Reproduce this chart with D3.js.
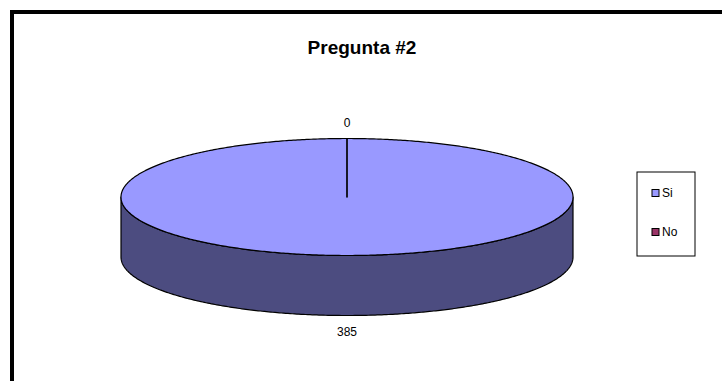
<!DOCTYPE html>
<html>
<head>
<meta charset="utf-8">
<script src="https://cdn.jsdelivr.net/npm/d3@7/dist/d3.min.js"></script>
<style>
  html, body { margin: 0; padding: 0; background: #fff; }
  svg { display: block; font-family: Arial, "Liberation Sans", sans-serif; }
</style>
</head>
<body>
<svg id="chart" width="722" height="381"></svg>
<script>
// Survey answers for question 2
const title = "Pregunta #2";
const categories = ["Si", "No"];
const values = [385, 0];
const topColors = ["#9999FF", "#993366"];
const sideColors = ["#4C4C80", "#4C1933"];

const svg = d3.select("#chart");
const W = 722, H = 381;

// Chart frame (runs off the right and bottom edge)
svg.append("rect")
  .attr("x", 12).attr("y", 12)
  .attr("width", W + 20).attr("height", H + 20)
  .attr("fill", "#fff")
  .attr("stroke", "#000")
  .attr("stroke-width", 4);

svg.append("text")
  .attr("x", 362).attr("y", 54)
  .attr("text-anchor", "middle")
  .attr("font-size", 19)
  .attr("font-weight", "bold")
  .text(title);

// 3D pie geometry
const cx = 347, cy = 197, rx = 226, ry = 58.5, depth = 60;
const pt = (a, dy = 0) => [cx + rx * Math.sin(a), cy - ry * Math.cos(a) + dy];

const pie = d3.pie().sort(null).value(d => d.value);
const data = categories.map((c, i) => ({ name: c, value: values[i], i }));
const arcs = pie(data);

function arcPoints(a0, a1, dy = 0) {
  const n = Math.max(2, Math.ceil(Math.abs(a1 - a0) / 0.01));
  return d3.range(n + 1).map(k => pt(a0 + (a1 - a0) * k / n, dy));
}
const line = d3.line();

// Front side walls: only the part of each slice facing the viewer (pi/2 .. 3pi/2)
arcs.forEach(s => {
  const a0 = Math.max(s.startAngle, Math.PI / 2);
  const a1 = Math.min(s.endAngle, 3 * Math.PI / 2);
  if (a1 <= a0) return;
  const top = arcPoints(a0, a1);
  const bottom = arcPoints(a1, a0, depth);
  svg.append("path")
    .attr("d", line(top.concat(bottom)) + "Z")
    .attr("fill", sideColors[s.data.i])
    .attr("stroke", "#000")
    .attr("stroke-width", 1.2)
    .attr("stroke-linejoin", "round");
});

// Top faces of the slices
arcs.forEach(s => {
  const pts = [[cx, cy]].concat(arcPoints(s.startAngle, s.endAngle));
  svg.append("path")
    .attr("d", line(pts) + "Z")
    .attr("fill", topColors[s.data.i])
    .attr("stroke", "#000")
    .attr("stroke-width", 1.2)
    .attr("stroke-linejoin", "round");
});

// Value labels just outside each slice
arcs.forEach(s => {
  const a = (s.startAngle + s.endAngle) / 2;
  const off = 16;
  const front = Math.cos(a) < 0;
  const x = cx + (rx + off) * Math.sin(a);
  const y = cy - (ry + off) * Math.cos(a) + (front ? depth : 0);
  svg.append("text")
    .attr("x", x).attr("y", y)
    .attr("text-anchor", "middle")
    .attr("dominant-baseline", "central")
    .attr("font-size", 12)
    .text(s.data.value);
});

// Legend
const lg = svg.append("g").attr("transform", "translate(637,172)");
lg.append("rect")
  .attr("width", 58).attr("height", 84)
  .attr("fill", "#fff").attr("stroke", "#000").attr("stroke-width", 1);
const rowY = d3.scalePoint().domain(categories).range([21, 60]);
categories.forEach((c, i) => {
  const y = rowY(c);
  lg.append("rect")
    .attr("x", 15).attr("y", y - 3.5)
    .attr("width", 7).attr("height", 7)
    .attr("fill", topColors[i]).attr("stroke", "#000").attr("stroke-width", 1);
  lg.append("text")
    .attr("x", 25).attr("y", y)
    .attr("dominant-baseline", "central")
    .attr("font-size", 12)
    .text(c);
});
</script>
</body>
</html>
